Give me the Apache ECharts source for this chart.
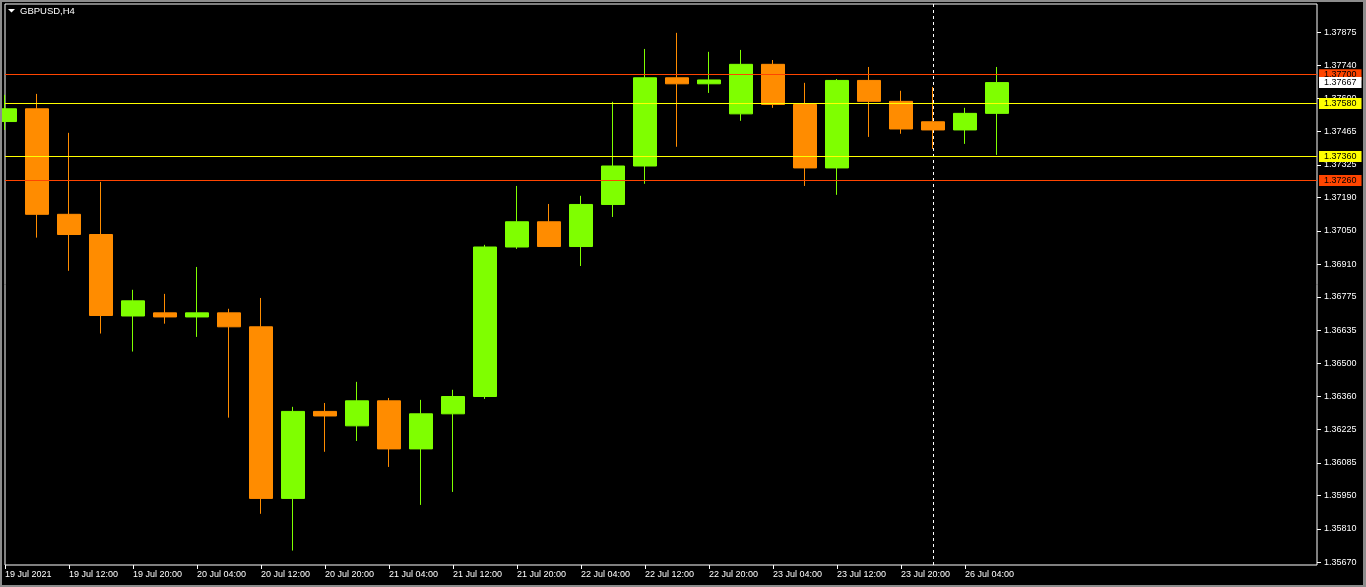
<!DOCTYPE html>
<html>
<head>
<meta charset="utf-8">
<script src="https://cdn.jsdelivr.net/npm/echarts@6/dist/echarts.min.js"></script>
<style>
html,body{margin:0;padding:0;background:#000;}
#chart{width:1366px;height:587px;}
</style>
</head>
<body>
<div id="chart"></div>
<script>
const categories = ['19 Jul 2021','19 Jul 08:00','19 Jul 12:00','19 Jul 16:00','19 Jul 20:00',
  '20 Jul 00:00','20 Jul 04:00','20 Jul 08:00','20 Jul 12:00','20 Jul 16:00','20 Jul 20:00',
  '21 Jul 00:00','21 Jul 04:00','21 Jul 08:00','21 Jul 12:00','21 Jul 16:00','21 Jul 20:00',
  '22 Jul 00:00','22 Jul 04:00','22 Jul 08:00','22 Jul 12:00','22 Jul 16:00','22 Jul 20:00',
  '23 Jul 00:00','23 Jul 04:00','23 Jul 08:00','23 Jul 12:00','23 Jul 16:00','23 Jul 20:00',
  '26 Jul 00:00','26 Jul 04:00','26 Jul 08:00'];
const opens  = [1.37505,1.37558,1.37119,1.37035,1.36696,1.36709,1.36692,1.36709,1.36651,1.35937,1.36299,1.36239,1.36343,1.36143,1.36289,1.36361,1.36983,1.37088,1.36985,1.37160,1.37320,1.37687,1.37662,1.37537,1.37743,1.37576,1.37312,1.37676,1.37589,1.37504,1.37470,1.37539];
const closes = [1.37558,1.37119,1.37035,1.36698,1.36759,1.36692,1.36709,1.36651,1.35937,1.36299,1.36280,1.36343,1.36143,1.36289,1.36361,1.36983,1.37088,1.36985,1.37160,1.37320,1.37687,1.37662,1.37678,1.37743,1.37576,1.37312,1.37676,1.37589,1.37474,1.37470,1.37539,1.37667];
const highs  = [1.37616,1.37620,1.37458,1.37254,1.36805,1.36788,1.36900,1.36726,1.36771,1.36318,1.36334,1.36422,1.36355,1.36347,1.36389,1.36992,1.37237,1.37162,1.37196,1.37587,1.37807,1.37874,1.37795,1.37803,1.37761,1.37666,1.37682,1.37732,1.37633,1.37649,1.37562,1.37732];
const lows   = [1.37470,1.37022,1.36884,1.36623,1.36548,1.36664,1.36609,1.36273,1.35873,1.35720,1.36131,1.36176,1.36068,1.35910,1.35964,1.36351,1.36975,1.36983,1.36904,1.37108,1.37246,1.37400,1.37624,1.37508,1.37562,1.37237,1.37200,1.37441,1.37454,1.37391,1.37412,1.37366];
const yTicks = [1.35670,1.35810,1.35950,1.36085,1.36225,1.36360,1.36500,1.36635,1.36775,1.36910,1.37050,1.37190,1.37325,1.37465,1.37600,1.37740,1.37875];
const redLevels = [1.37700, 1.37260];
const yellowLevels = [1.37580, 1.37360];
const bidPrice = 1.37667;
const separatorBar = '26 Jul 00:00';
const symbolTitle = 'GBPUSD,H4';
const emptySlots = 10;

const xCats = categories.concat(new Array(emptySlots).fill(''));
const candleData = opens.map((o, i) => [o, closes[i], lows[i], highs[i]]);
const FONT = 'Liberation Sans, Arial, sans-serif';

function levelLabel(bg) {
  return {
    show: true, position: 'end', distance: 2,
    formatter: p => Number(p.value).toFixed(5),
    color: '#000', backgroundColor: bg, fontSize: 9, fontFamily: FONT,
    padding: [1, 5, 0, 5], lineHeight: 10
  };
}

const markData = [];
redLevels.forEach(v => markData.push({yAxis: v, lineStyle: {color: '#FF4500', width: 1, type: 'solid'}, label: levelLabel('#FF4500')}));
yellowLevels.forEach(v => markData.push({yAxis: v, lineStyle: {color: '#FFFF00', width: 1, type: 'solid'}, label: levelLabel('#FFFF00')}));
markData.push({yAxis: bidPrice, lineStyle: {color: 'rgba(0,0,0,0)', width: 0}, label: levelLabel('#FFFFFF')});

const chart = echarts.init(document.getElementById('chart'), null, {renderer: 'canvas'});
chart.setOption({
  backgroundColor: '#000',
  animation: false,
  grid: {left: 5, right: 49, top: 4, bottom: 22, show: true, borderColor: '#FFFFFF', borderWidth: 1, backgroundColor: '#000'},
  xAxis: {
    type: 'category', data: xCats, boundaryGap: false,
    axisLine: {show: false},
    axisTick: {show: true, length: 4, lineStyle: {color: '#FFFFFF'}, interval: (idx, val) => val !== '' && idx % 2 === 0},
    axisLabel: {color: '#FFFFFF', fontSize: 9, fontFamily: FONT, align: 'left', margin: 5,
      interval: (idx, val) => val !== '' && idx % 2 === 0},
    splitLine: {show: false}
  },
  yAxis: {
    type: 'value', position: 'right', scale: true, min: 1.35660, max: 1.37994,
    axisLine: {show: false},
    axisTick: {show: true, length: 4, lineStyle: {color: '#FFFFFF'}, customValues: yTicks},
    axisLabel: {color: '#FFFFFF', fontSize: 9, fontFamily: FONT, margin: 7, customValues: yTicks,
      formatter: v => Number(v).toFixed(5)},
    splitLine: {show: false}
  },
  graphic: [
    {type: 'polygon', shape: {points: [[8, 9], [15, 9], [11.5, 12.5]]}, style: {fill: '#FFFFFF'}, z: 100},
    {type: 'text', left: 20, top: 6, style: {text: symbolTitle, fill: '#FFFFFF', font: '9.5px ' + FONT}, z: 100},
    {type: 'rect', shape: {x: 0, y: 0, width: 1366, height: 2}, style: {fill: '#8c8c8c'}, z: 100},
    {type: 'rect', shape: {x: 0, y: 585, width: 1366, height: 2}, style: {fill: '#8c8c8c'}, z: 100},
    {type: 'rect', shape: {x: 0, y: 0, width: 2, height: 587}, style: {fill: '#8c8c8c'}, z: 100},
    {type: 'rect', shape: {x: 1363, y: 0, width: 3, height: 587}, style: {fill: '#8c8c8c'}, z: 100}
  ],
  series: [
    {
      type: 'line', data: [], z: 1, silent: true,
      markLine: {
        silent: true, symbol: ['none', 'none'], animation: false, z: 1,
        label: {show: false},
        lineStyle: {color: '#FFFFFF', width: 1, type: [3, 3]},
        data: [{xAxis: separatorBar}]
      }
    },
    {
      type: 'candlestick', z: 10, barWidth: 24, clip: true,
      data: candleData,
      itemStyle: {color: '#7FFF00', color0: '#FF8C00', borderColor: '#7FFF00', borderColor0: '#FF8C00', borderWidth: 1}
    },
    {
      type: 'line', data: [], z: 12, silent: true,
      markLine: {
        silent: true, symbol: ['none', 'none'], animation: false, z: 12, precision: 5,
        data: markData
      }
    }
  ]
});
</script>
</body>
</html>
